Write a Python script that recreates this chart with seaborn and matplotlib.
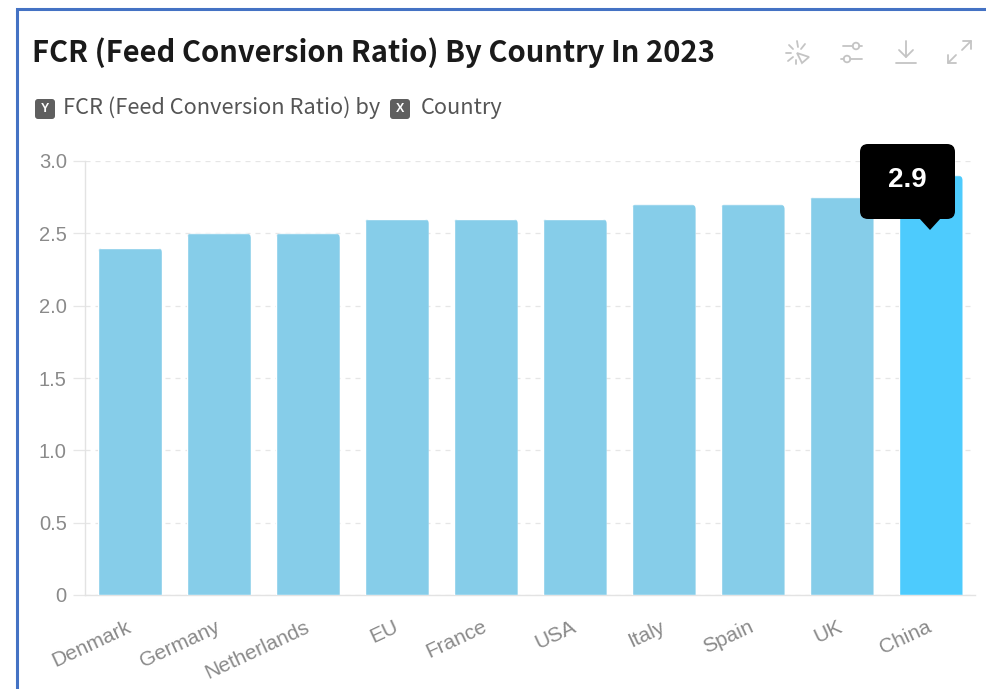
import matplotlib
matplotlib.use("Agg")
import matplotlib.pyplot as plt
import seaborn as sns
import pandas as pd
from matplotlib.patches import FancyBboxPatch, Polygon, Circle
from matplotlib.transforms import IdentityTransform, ScaledTranslation

countries = ["Denmark", "Germany", "Netherlands", "EU", "France", "USA", "Italy", "Spain", "UK", "China"]
fcr = [2.4, 2.5, 2.5, 2.6, 2.6, 2.6, 2.7, 2.7, 2.75, 2.9]
bar_colors = ["#86CDE9"] * 9 + ["#4DCBFD"]
y_ticks = [0, 0.5, 1.0, 1.5, 2.0, 2.5, 3.0]
y_labels = ["0", "0.5", "1.0", "1.5", "2.0", "2.5", "3.0"]
title = "FCR (Feed Conversion Ratio) By Country In 2023"
subtitle_y = "FCR (Feed Conversion Ratio) by"
subtitle_x = "Country"
highlight = "2.9"

W, H = 987, 689
sns.set_theme(style="white")
plt.rcParams["font.family"] = ["Liberation Sans", "DejaVu Sans"]
fig = plt.figure(figsize=(W / 100, H / 100), dpi=100, facecolor="white")

ax = fig.add_axes([85.5 / W, 1 - 595 / H, 889.5 / W, 434 / H])
df = pd.DataFrame({"country": countries, "fcr": fcr})
sns.barplot(data=df, x="country", y="fcr", hue="country", palette=bar_colors,
            legend=False, width=0.72, saturation=1, ax=ax, zorder=3)
ax.set_xlim(-0.5, 9.5)
ax.set_ylim(0, 3.0)
ax.set_xlabel("")
ax.set_ylabel("")
ax.set_yticks(y_ticks, y_labels)
ax.set_facecolor("none")
ax.grid(axis="y", color="#E6E6E6", linestyle=(0, (4, 4)), linewidth=0.9, zorder=0)
ax.grid(axis="x", visible=False)
ax.tick_params(axis="y", length=9, width=0.9, color="#E6E6E6", pad=4.5, labelsize=14.5, labelcolor="#8A8A8A", left=True)
ax.tick_params(axis="x", length=0, pad=16, labelsize=15, labelcolor="#8A8A8A")
shift = ScaledTranslation(-4 / 100, 0, fig.dpi_scale_trans)
for lab in ax.get_xticklabels():
    lab.set_rotation(25)
    lab.set_ha("right")
    lab.set_va("top")
    lab.set_rotation_mode("anchor")
    lab.set_transform(lab.get_transform() + shift)
for s in ["top", "right"]:
    ax.spines[s].set_visible(False)
for s in ["left", "bottom"]:
    ax.spines[s].set_color("#E3E3E3")
    ax.spines[s].set_linewidth(1.0)

# Round the upper corners of each bar
fig.canvas.draw()
for p in ax.patches:
    bb = p.get_window_extent()
    clip = FancyBboxPatch((bb.x0 + 5, bb.y0 - 20), bb.width - 10, bb.height + 20 - 5,
                          boxstyle="round,pad=5,rounding_size=5", transform=IdentityTransform())
    p.set_clip_path(clip)

# Overlay in pixel coordinates for the card furniture
ov = fig.add_axes([0, 0, 1, 1], zorder=10)
ov.set_xlim(0, W)
ov.set_ylim(H, 0)
ov.axis("off")
ov.patch.set_alpha(0)

blue = "#4472C4"
ov.plot([17, 17, W], [H, 9, 9], color=blue, lw=2.2, solid_joinstyle="miter", clip_on=False)

ov.text(32, 53, title, family="Noto Sans CJK SC", fontweight="bold", fontsize=21,
        color="#1A1A1A", va="center", ha="left")

def badge(x, letter):
    ov.add_patch(FancyBboxPatch((x + 2, 101), 16, 16, boxstyle="round,pad=2,rounding_size=3",
                                fc="#5F5F5F", ec="none"))
    ov.text(x + 10, 109, letter, color="white", fontsize=9, fontweight="bold", ha="center", va="center")

badge(35, "Y")
badge(390, "X")
ov.text(63, 108, subtitle_y, family="Noto Sans CJK SC", fontsize=15.7, color="#555555", va="center", ha="left")
ov.text(421, 108, subtitle_x, family="Noto Sans CJK SC", fontsize=15.7, color="#555555", va="center", ha="left")

# Tooltip
ov.add_patch(FancyBboxPatch((868, 152), 79, 59, boxstyle="round,pad=8,rounding_size=8", fc="black", ec="none"))
ov.add_patch(Polygon([[919, 218], [941, 218], [930, 230]], closed=True, fc="black", ec="none"))
ov.text(907, 180, highlight, color="white", fontsize=20, fontweight="bold", ha="center", va="center")

# Toolbar icons
ic = "#C4C4C4"
lw = 1.3
for a, b in [((797, 41), (798, 47)), ((786, 53), (791, 53)), ((789, 45), (793, 49)),
             ((805, 44), (801, 49)), ((788, 61), (793, 57)), ((796, 60), (796, 64))]:
    ov.plot([a[0], b[0]], [a[1], b[1]], color=ic, lw=lw)
ov.add_patch(Polygon([[797, 53], [809, 57], [802, 63]], closed=True, fc="none", ec=ic, lw=lw))
ov.plot([843, 853], [46, 46], color=ic, lw=lw)
ov.plot([859, 862], [46, 46], color=ic, lw=lw)
ov.add_patch(Circle((856, 46), 3.3, fc="none", ec=ic, lw=lw))
ov.plot([841, 844], [59, 59], color=ic, lw=lw)
ov.plot([850, 862], [59, 59], color=ic, lw=lw)
ov.add_patch(Circle((847, 59), 3.3, fc="none", ec=ic, lw=lw))
ov.plot([906, 906], [41, 57], color=ic, lw=lw)
ov.plot([899, 906, 913], [50, 57, 50], color=ic, lw=lw)
ov.plot([896, 916], [63, 63], color=ic, lw=lw)
ov.plot([962, 971], [50, 41], color=ic, lw=lw)
ov.plot([963, 971, 971], [41, 41, 49], color=ic, lw=lw)
ov.plot([948, 956], [63, 55], color=ic, lw=lw)
ov.plot([948, 948, 956], [55, 63, 63], color=ic, lw=lw)

fig.savefig("out.png", dpi=100, facecolor="white")
